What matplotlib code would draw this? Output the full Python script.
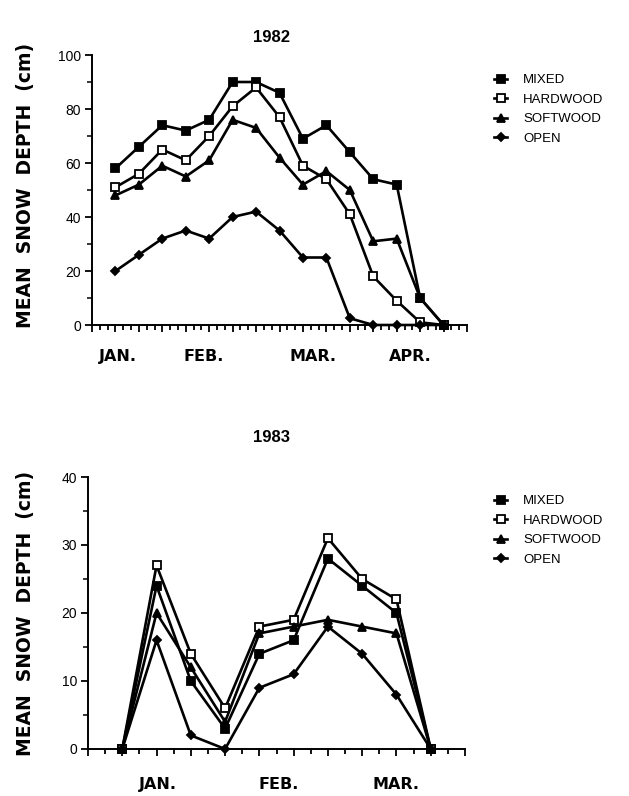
import numpy as np
import matplotlib
matplotlib.use("Agg")
import matplotlib.pyplot as plt
from matplotlib.ticker import MultipleLocator

plt.rcParams['font.family'] = ['Liberation Sans', 'DejaVu Sans']

# %% data (mean snow depth, cm)
series = ['MIXED', 'HARDWOOD', 'SOFTWOOD', 'OPEN']

# 1982, 15 sampling dates
x82 = np.arange(1, 16)
mixed82 = [58, 66, 74, 72, 76, 90, 90, 86, 69, 74, 64, 54, 52, 10, 0]
hard82 = [51, 56, 65, 61, 70, 81, 88, 77, 59, 54, 41, 18, 9, 1, 0]
soft82 = [48, 52, 59, 55, 61, 76, 73, 62, 52, 57, 50, 31, 32, 10, 0]
open82 = [20, 26, 32, 35, 32, 40, 42, 35, 25, 25, 2.5, 0, 0, 0, 0]
months82 = ['JAN.', 'FEB.', 'MAR.', 'APR.']
month_pos82 = [1.1, 4.75, 9.45, 13.6]

# 1983, 10 sampling dates
x83 = np.arange(1, 11)
mixed83 = [0, 24, 10, 3, 14, 16, 28, 24, 20, 0]
hard83 = [0, 27, 14, 6, 18, 19, 31, 25, 22, 0]
soft83 = [0, 20, 12, 4, 17, 18, 19, 18, 17, 0]
open83 = [0, 16, 2, 0, 9, 11, 18, 14, 8, 0]
months83 = ['JAN.', 'FEB.', 'MAR.']
month_pos83 = [2.05, 5.55, 9.0]

# %% styling
styles = {'MIXED': dict(marker='s', mfc='black'),
          'HARDWOOD': dict(marker='s', mfc='white'),
          'SOFTWOOD': dict(marker='^', mfc='black'),
          'OPEN': dict(marker='D', mfc='black')}
msize = {'s': 5.5, '^': 6, 'D': 4.5}

W, H = 629, 796
fig = plt.figure(figsize=(W / 100, H / 100), dpi=100)


def px_axes(left, right, top, bottom):
    return fig.add_axes([left / W, 1 - bottom / H, (right - left) / W, (bottom - top) / H])


def draw(ax, x, data, xmax, ymax, ymaj, yminor, xminor, months, mpos, mlab_y):
    for name, y in zip(series, data):
        st = styles[name]
        ax.plot(x, y, color='black', lw=1.9, marker=st['marker'], mfc=st['mfc'],
                mec='black', mew=1.3, ms=msize[st['marker']], clip_on=False,
                label=name, zorder=3)
    ax.set_xlim(0, xmax)
    ax.set_ylim(0, ymax)
    for s in ['top', 'right']:
        ax.spines[s].set_visible(False)
    ax.spines['left'].set_linewidth(1.4)
    ax.spines['bottom'].set_linewidth(1.4)
    ax.yaxis.set_major_locator(MultipleLocator(ymaj))
    ax.yaxis.set_minor_locator(MultipleLocator(yminor))
    ax.xaxis.set_major_locator(MultipleLocator(1))
    ax.xaxis.set_minor_locator(MultipleLocator(xminor))
    ax.tick_params(axis='x', which='both', labelbottom=False, direction='out',
                   width=1.3)
    ax.tick_params(axis='x', which='major', length=5)
    ax.tick_params(axis='x', which='minor', length=3.5)
    ax.tick_params(axis='y', which='major', length=5, width=1.3, labelsize=10, pad=3)
    ax.tick_params(axis='y', which='minor', length=3.5, width=1.1)
    for m, p in zip(months, mpos):
        ax.text(p, mlab_y, m, transform=ax.get_xaxis_transform(), ha='center',
                va='center', fontsize=11.5, fontweight='bold', family='DejaVu Sans')


ax1 = px_axes(92, 467, 55, 325)
draw(ax1, x82, [mixed82, hard82, soft82, open82], 16, 100, 20, 10, 1 / 3,
     months82, month_pos82, -0.115)
ax2 = px_axes(88, 465, 477, 749)
draw(ax2, x83, [mixed83, hard83, soft83, open83], 11, 40, 10, 5, 0.5,
     months83, month_pos83, -0.13)

for ax, title, ty, ly, cy in [(ax1, '1982', 37, 74, 185), (ax2, '1983', 437, 495, 613)]:
    fig.text(272 / W, 1 - ty / H, title, ha='center', va='center',
             fontsize=12, fontweight='bold')
    ax.legend(loc='upper left', bbox_to_anchor=(494 / W, 1 - ly / H),
              bbox_transform=fig.transFigure, frameon=False, fontsize=9.5,
              handlelength=1.0, handletextpad=1.2, labelspacing=0.55,
              borderpad=0, borderaxespad=0)
    fig.text(26 / W, 1 - cy / H, 'MEAN  SNOW  DEPTH  (cm)', rotation=90,
             ha='center', va='center', fontsize=13.5, fontweight='bold',
             family='DejaVu Sans')

fig.savefig('out.png', dpi=100)
